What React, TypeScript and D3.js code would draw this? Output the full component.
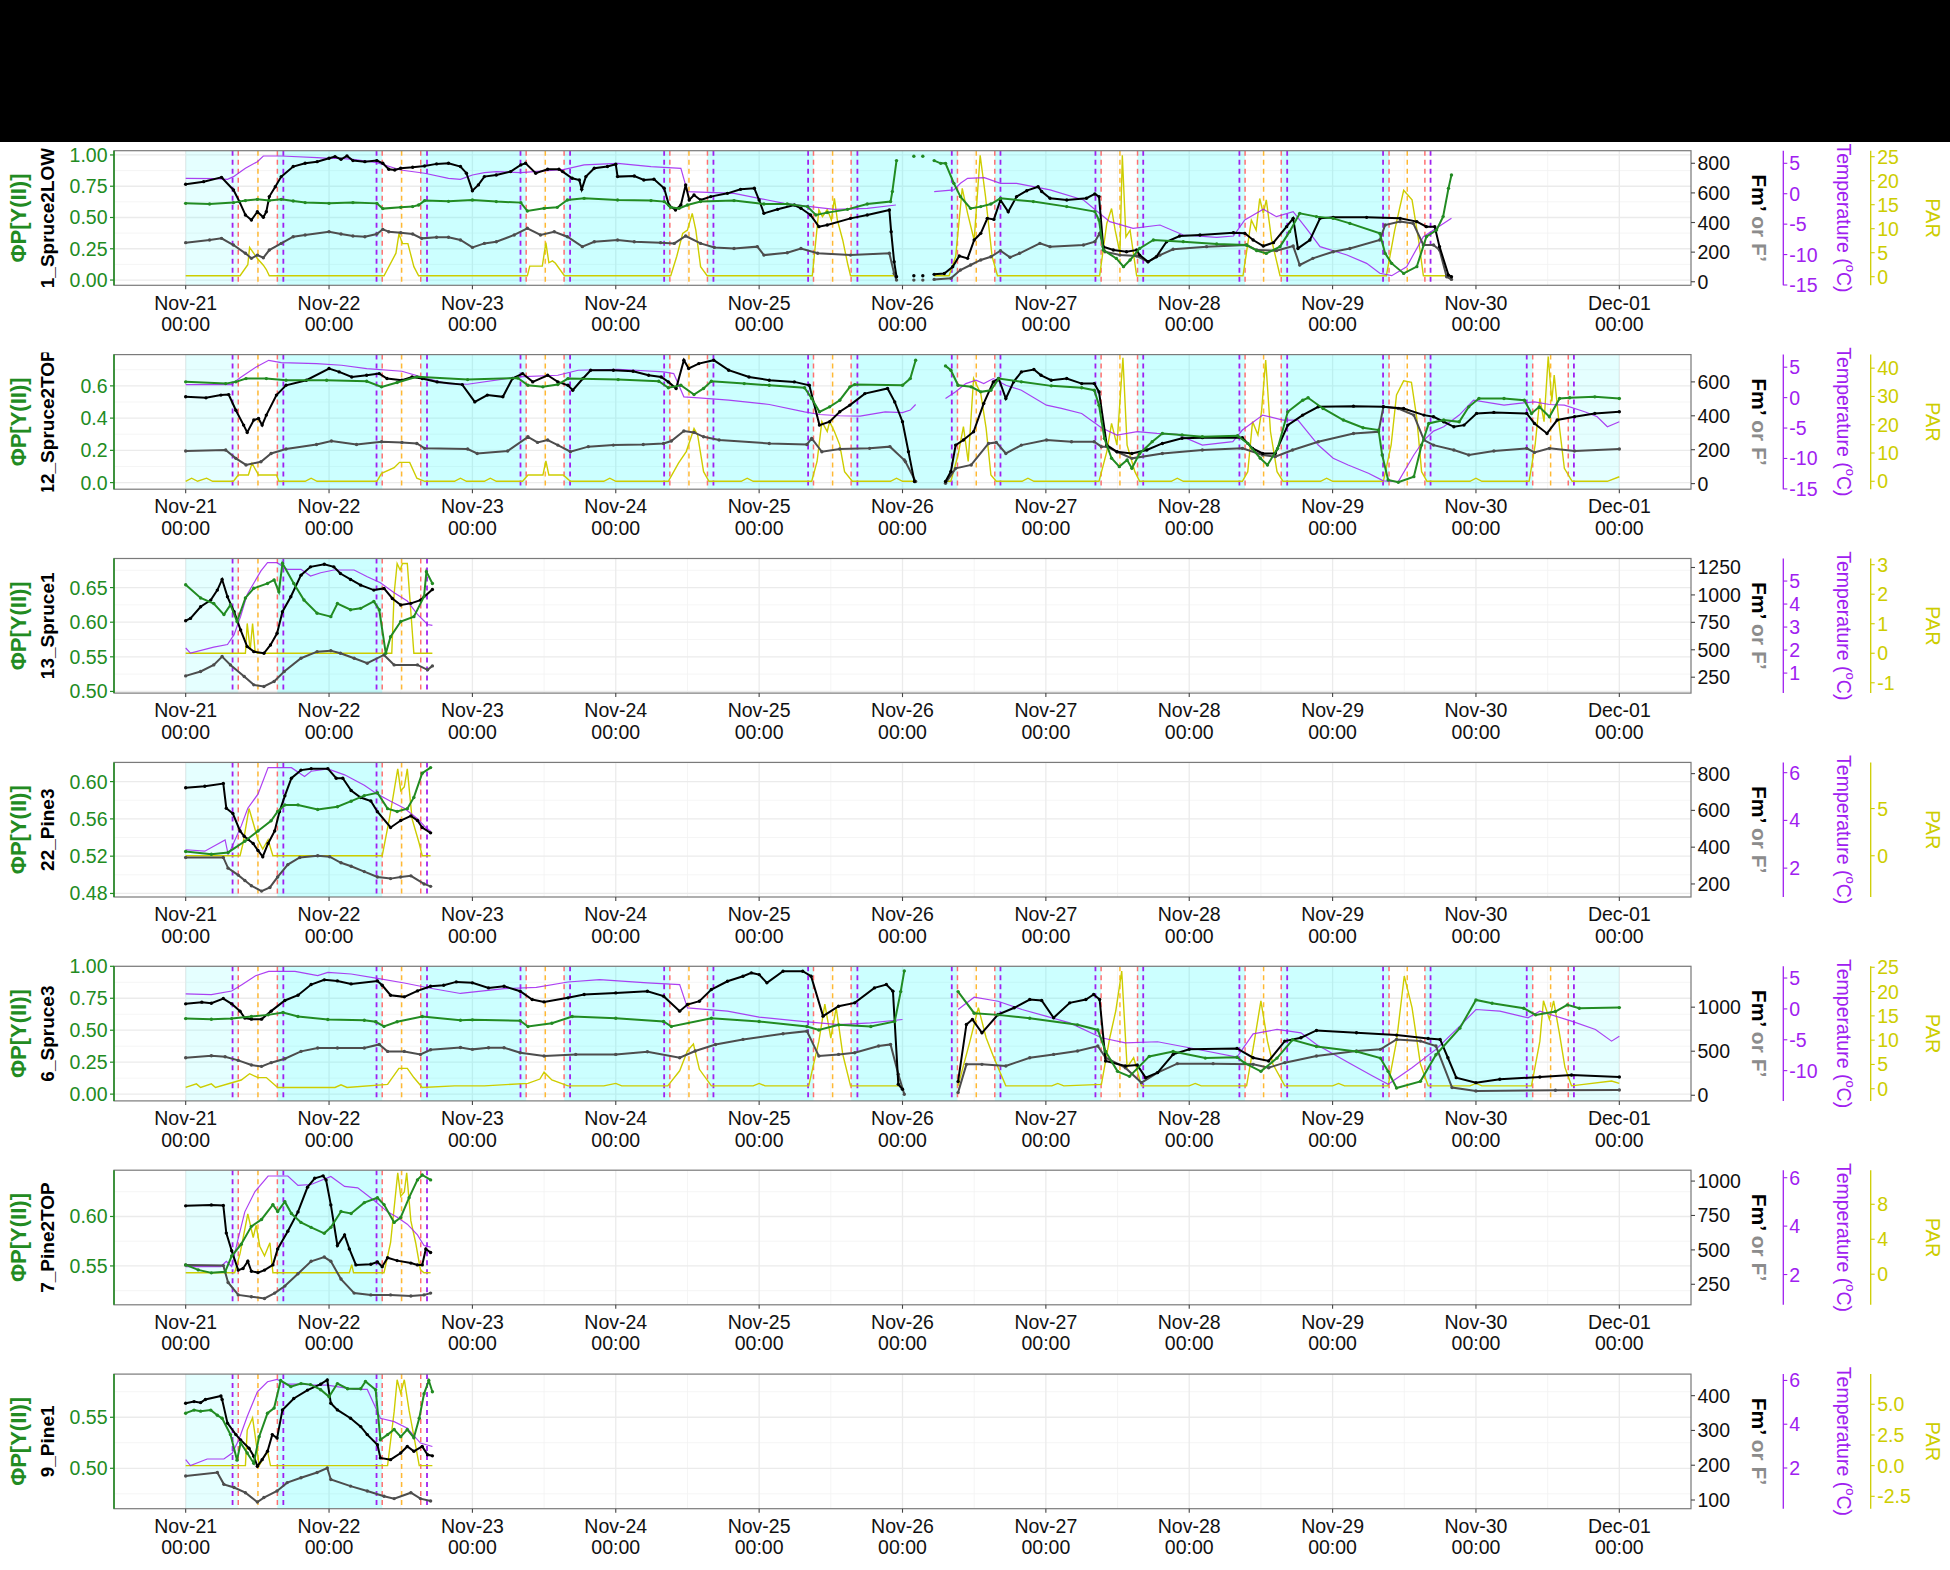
import * as d3 from 'd3';

type P = [number, number] | null;

// time axis: hours after Nov-21 00:00
const dayLabels = ['Nov-21', 'Nov-22', 'Nov-23', 'Nov-24', 'Nov-25', 'Nov-26', 'Nov-27', 'Nov-28', 'Nov-29', 'Nov-30', 'Dec-01'];
// sun events per day (clock hours), Nov-21 .. Nov-30
const dawnH = [7.85, 7.95, 8.05, 8.1, 8.2, 8.25, 8.3, 8.4, 8.45, 8.5];
const sunriseH = [8.8, 8.9, 9.0, 9.05, 9.1, 9.2, 9.25, 9.35, 9.45, 9.5];
const noonH = [12.1, 12.15, 12.2, 12.25, 12.3, 12.35, 12.4, 12.45, 12.5, 12.5];
const sunsetH = [15.35, 15.35, 15.35, 15.35, 15.4, 15.45, 15.35, 15.4, 15.45, 15.45];
const duskH = [16.35, 16.4, 16.35, 16.35, 16.45, 16.4, 16.3, 16.4, 16.4, 16.4];

// ---------- 1_Spruce2LOW ----------
const p1Phi: P[] = [[0,0.613],[4,0.608],[8,0.619],[10,0.635],[12,0.645],[14,0.635],[16,0.645],[18,0.632],[20,0.619],[24,0.613],[28,0.619],[32,0.613],[33,0.571],[36,0.581],[38,0.587],[39,0.6],[40,0.635],[44,0.629],[48,0.64],[52,0.627],[56.1,0.619],[57.2,0.552],[60,0.573],[62.2,0.581],[63.9,0.64],[66.7,0.653],[72.3,0.64],[77.9,0.635],[80.1,0.627],[81.2,0.581],[82.6,0.573],[84,0.6],[86.2,0.627],[91.8,0.635],[96.8,0.608],[100.7,0.608],[104.1,0.587],[105.5,0.52],[107.4,0.539],[110.8,0.565],[114.1,0.608],[118,0.627],[118.3,0.707],[119,0.955],null,[121.9,0.99],null,[123.4,0.99],null,[125.3,0.955],[126.4,0.933],[127.2,0.933],[128.6,0.773],[129.7,0.667],[131.4,0.573],[133.1,0.587],[134.8,0.608],[136.4,0.653],[141.9,0.627],[147.5,0.587],[152.2,0.547],[152.9,0.48],[153.6,0.24],[155.8,0.173],[157,0.107],[158.1,0.16],[159.7,0.253],[162,0.32],[167,0.307],[172.6,0.288],[177.6,0.28],[179.3,0.235],[180.9,0.213],[183.2,0.267],[184.8,0.387],[186.5,0.533],[189.3,0.507],[192.1,0.493],[194.9,0.453],[199.9,0.373],[200.8,0.213],[201.9,0.133],[203.9,0.053],[206.1,0.107],[207.7,0.347],[209.4,0.4],[210.5,0.507],[211.4,0.733],[211.9,0.84]];
const p1Fm: P[] = [[0,658],[3,676],[6,705],[8,620],[9,541],[10,451],[11,417],[12,473],[13,435],[13.5,473],[14,575],[15,642],[16,710],[18,778],[20,800],[22,811],[24,834],[25,845],[26,827],[27,850],[28,818],[30,811],[32,818],[33,800],[34,760],[35,755],[36,766],[38,773],[40,782],[42,796],[44,800],[46,778],[47,733],[48,615],[49,654],[50,710],[52,721],[54.4,744],[56.1,789],[56.9,800],[58.6,733],[60.6,760],[62.5,760],[63.1,744],[64.7,699],[65.9,687],[66.3,624],[67,710],[68.4,766],[70.6,778],[72,793],[72.3,710],[75.1,714],[76.7,687],[78.4,692],[80.1,631],[80.9,518],[82,485],[82.9,518],[83.7,654],[84.3,552],[85.1,586],[86.2,552],[87.9,575],[90.7,597],[92.9,624],[95.2,631],[96,552],[96.8,462],[99.1,489],[101.9,518],[103,496],[104.6,451],[106,372],[107.4,383],[111.3,428],[114.1,451],[117.8,485],[118.1,338],[118.6,135],[119,34],null,[121.9,40],null,[123.4,40],null,[125.3,50],[127,56],[128.4,101],[129.5,174],[130.9,158],[132,282],[133.1,327],[134.2,428],[135.3,421],[136.4,552],[137.7,473],[139.1,575],[140.8,615],[142.7,642],[143.3,609],[144.7,564],[147.5,552],[150.8,564],[152.2,593],[152.9,575],[153.6,237],[155.3,214],[157.5,203],[159.2,214],[159.7,180],[161.1,135],[162.5,169],[164.2,270],[166.4,309],[169.8,316],[175.4,331],[177.3,327],[178.7,282],[180.4,241],[182.1,264],[184.3,372],[185.4,428],[186.2,225],[188.2,282],[189.9,428],[192.1,435],[197.7,435],[203.3,428],[206.1,406],[207.7,372],[209.1,372],[209.9,237],[211.4,45],[211.9,34]];
const p1F: P[] = [[0,264],[4,282],[6,293],[8,248],[10,192],[11,158],[12,180],[13,162],[14,214],[16,259],[18,304],[20,316],[24,338],[26,322],[28,309],[30,304],[32,322],[33,354],[34,338],[36,331],[38,322],[39.5,293],[42,300],[44,300],[46,282],[48,232],[50,259],[52,270],[55,316],[57.2,361],[59.4,316],[61.7,338],[63.9,304],[66.4,237],[68.4,270],[72.3,282],[75.1,270],[79.5,264],[81.8,259],[83.7,309],[86.2,259],[88.5,232],[91.8,225],[95.7,237],[96.8,180],[100.7,196],[103,225],[105.8,192],[111.3,180],[117.8,192],[118.6,56],[119,11],null,[121.9,11],null,[123.4,11],null,[125.3,16],[128.1,23],[129.7,79],[131.4,113],[133.1,147],[134.8,169],[136.4,210],[138,165],[139.6,192],[143,259],[144.7,237],[150.3,248],[152.2,270],[153,327],[153.9,203],[156.4,180],[159.2,174],[161.1,135],[163.1,180],[165.3,219],[170.9,237],[177.6,248],[179.3,214],[182.6,210],[185.4,241],[186.5,113],[188.7,158],[192.1,203],[194.9,225],[199.9,282],[200.8,383],[203.3,406],[205.5,394],[207.2,248],[208.9,248],[209.9,214],[211.1,34],[211.9,16]];
const p1Temp: P[] = [[0,2.53],[5,2.48],[7,2.37],[8,2.81],[10,4.18],[12,5.27],[13,6.2],[16,6.2],[22,5.93],[24,5.82],[26,5.82],[28,5.66],[32,5.1],[36,3.9],[40,3.36],[44,2.53],[46,2.37],[48,3.08],[50,3.47],[52,3.63],[56.1,3.47],[63.4,4.01],[66.7,4.73],[72.3,5.0],[77.9,4.45],[82.9,4.18],[84,0.34],[88.5,0.18],[91.8,0.07],[97.4,-1.03],[100.2,-1.58],[104.6,-2.12],[108.6,-2.56],[114.1,-2.4],[118.9,-1.85],null,[125.3,0.34],[128.6,0.62],[129.7,1.71],[130.9,2.53],[133.7,2.64],[136.4,1.71],[139.1,1.71],[144.7,0.62],[150.3,-1.03],[154.7,-4.59],[158.6,-5.69],[163.1,-5.14],[167,-6.78],[172.6,-7.17],[175.4,-6.95],[177.3,-4.32],[180.4,-2.56],[182.6,-3.77],[185.4,-2.95],[187.6,-5.69],[189.9,-8.7],[194.4,-10.07],[197.7,-11.44],[199.9,-13.08],[201.9,-13.47],[204.4,-12],[207.2,-7.06],[211.9,-4.04]];
const p1Par: P[] = [[0,0.2],[9.1,0.2],[10.4,2.5],[10.7,6.1],[12,3.8],[13,2.4],[13.5,1.5],[14,0.2],[33.2,0.2],[35.2,4.9],[35.7,8.9],[36.3,6.9],[37.2,6.9],[38.2,2.1],[39,0.2],[57.2,0.2],[57.6,2.2],[59.7,2.2],[60.3,7.1],[60.8,2.9],[61.4,3.3],[61.9,2.8],[63.4,0.2],[81.2,0.2],[82.2,4.2],[83.2,9.0],[84,9.7],[84.8,13.2],[85.4,9.7],[86.2,2.1],[87.3,0.2],[104.9,0.2],[106,13.9],[106.6,12.5],[107.4,14.0],[108.1,11.8],[108.6,16.3],[109.1,11.8],[110,7.6],[110.8,2.8],[111.3,0.2],[118.9,0.2],null,[125.3,0.2],[127.8,0.2],[128.9,4.2],[130,18.4],[130.9,13.2],[132,7.6],[133,25.3],[133.9,16.7],[135,4.2],[135.9,0.2],[153,0.2],[154.2,11.1],[155,14.2],[155.6,9.7],[156.4,4.9],[156.8,25.3],[157.4,8.3],[158.1,9.7],[159.2,0.2],[177,0.2],[178.4,11.8],[179.2,9.7],[179.8,16.3],[180.4,13.2],[180.9,16],[181.8,7.6],[183.2,0.2],[201,0.2],[202.4,9.7],[203.9,18],[205.3,16],[206.4,7.6],[207.2,0.2],[211.9,0.2]];

// ---------- 12_Spruce2TOP ----------
const p2Phi: P[] = [[0,0.625],[6.7,0.614],[8.4,0.625],[10.1,0.645],[13.5,0.645],[16.8,0.635],[23.6,0.635],[30.3,0.629],[32.8,0.594],[35.4,0.621],[38.7,0.656],[47.2,0.639],[55.6,0.649],[57.3,0.604],[59.8,0.594],[62.3,0.608],[64,0.645],[72.4,0.639],[79.2,0.629],[80.8,0.588],[82.9,0.604],[85.1,0.546],[86.7,0.584],[88,0.629],[93.5,0.614],[97.7,0.604],[103.6,0.588],[104.8,0.522],[106.1,0.439],[107.8,0.47],[109.5,0.511],[111.2,0.594],[112,0.608],[120,0.604],[121.3,0.645],[122.2,0.759],null,[127.2,0.724],[128.1,0.697],[129.3,0.604],[131.5,0.594],[133.1,0.563],[134.8,0.573],[136.1,0.645],[139.9,0.625],[144.9,0.6],[150,0.588],[152.1,0.573],[152.9,0.48],[153.8,0.274],[155,0.151],[156.3,0.099],[157.6,0.14],[158.4,0.089],[159.7,0.181],[161.8,0.254],[163.5,0.305],[166.8,0.295],[170.2,0.285],[176.1,0.291],[177.8,0.243],[179.9,0.151],[181.1,0.109],[182.8,0.212],[184.5,0.439],[187,0.511],[187.9,0.526],[190.4,0.46],[193.8,0.388],[197.1,0.34],[199.7,0.326],[200.3,0.171],[201.3,0.016],[203,0.002],[205.6,0.037],[206.9,0.233],[208.1,0.367],[210.6,0.388],[213.2,0.377],[214.8,0.47],[216.5,0.522],[220.7,0.522],[224.1,0.511],[225.3,0.429],[226.6,0.47],[228.3,0.408],[230,0.522],[231.7,0.526],[235.9,0.532],[240,0.522]];
const p2Fm: P[] = [[0,512],[3.4,506],[5.9,522],[7.2,525],[8.4,433],[9.7,345],[10.3,302],[11.4,375],[12.2,384],[12.8,345],[13.5,404],[15.2,522],[16.8,580],[20.2,610],[24,679],[25.7,659],[27.8,629],[30.3,639],[32.4,649],[33.7,620],[36.2,610],[37.9,629],[39.6,620],[42.1,600],[46.3,584],[48.4,482],[50.5,522],[53.1,512],[54.7,620],[56.4,649],[58.1,600],[60.6,639],[62.3,600],[64,580],[64.8,551],[66.5,620],[67.8,669],[71.6,669],[74.9,663],[77.5,639],[79.6,629],[80.8,600],[82.1,561],[83.4,728],[84.2,679],[85.9,708],[88.4,728],[90.9,669],[94.3,629],[97.7,610],[101.9,600],[104.4,580],[106.1,345],[107.8,365],[109.5,424],[111.2,463],[113.7,531],[117.5,561],[118.7,482],[120,365],[121,188],[122,12],null,[127.2,12],[128.1,71],[128.9,227],[130.2,257],[131.9,306],[133.6,473],[135.2,600],[136.1,620],[137.3,502],[138.6,600],[139.9,659],[142,673],[143.2,639],[144.9,610],[147.5,620],[150,590],[152.1,590],[152.9,541],[154.2,227],[155.9,188],[158.4,178],[160.9,198],[163.5,237],[166.8,267],[170.2,271],[176.9,271],[178.6,208],[180.3,178],[182.4,178],[184.5,345],[187,404],[189.6,453],[195.5,457],[200.5,453],[203.9,443],[207.3,404],[208.9,394],[210.6,365],[212.3,335],[214,345],[216.1,414],[219,420],[224.5,414],[225.8,355],[227.9,296],[229.6,375],[232.5,394],[235.9,414],[240,424]];
const p2F: P[] = [[0,192],[6.7,198],[8.4,149],[10.1,110],[12.6,129],[14.3,178],[16.8,204],[21.9,231],[24.4,251],[28.6,231],[32.8,247],[36.2,243],[38.7,237],[40,208],[47.2,204],[48.8,178],[53.9,192],[57.3,276],[58.9,243],[60.6,257],[62.3,227],[64.4,188],[67.4,218],[71.6,227],[76.6,231],[80,237],[81.3,251],[83.4,310],[85.1,302],[86.7,276],[89.3,257],[97.7,237],[104,231],[104.8,267],[106.5,188],[109.5,204],[114.5,208],[117.9,218],[120.3,139],[120.5,129],[122.2,12],null,[127.2,2],[128.9,90],[131.5,110],[134.4,237],[135.7,243],[137.3,178],[139.9,227],[144.1,257],[148.3,247],[152.1,247],[153.3,218],[154.2,218],[155.9,188],[158.4,149],[163.5,178],[170.2,198],[176.9,208],[180.3,169],[182.4,159],[185.3,198],[189.6,247],[195.5,296],[199.7,306],[200.5,453],[203,443],[205.6,404],[207.3,257],[208.9,227],[212.3,198],[214.8,169],[219,192],[224.5,208],[225.8,184],[228.3,208],[232.5,192],[240,204]];
const p2Temp: P[] = [[0,2.15],[7.6,2.15],[9.3,3.4],[11.8,5.04],[13.9,6.13],[16,5.75],[21.9,5.59],[26.1,5.32],[30.3,4.77],[36.2,4.33],[40.4,3.13],[43.8,2.31],[47.2,2.2],[55.6,3.4],[62.3,3.68],[65.7,4.5],[72.4,4.66],[80,4.22],[81.7,3.95],[83.4,0.13],[85.9,-0.04],[90.9,-0.42],[97.7,-1.13],[103.6,-2.33],[106.1,-2.77],[109.5,-2.98],[112.9,-3.04],[117.1,-2.33],[120,-2.45],[121.3,-2.05],[122.2,-1.13],null,[127.2,-0.14],[128.9,0.95],[130.6,2.31],[132.3,2.86],[133.6,2.31],[135.2,3.13],[137.3,2.04],[139.9,1.22],[144.1,-1.24],[146.6,-1.78],[150,-2.6],[153.3,-4.95],[155.9,-6.15],[159.3,-5.6],[162.6,-5.88],[166,-6.04],[170.2,-7.79],[175.3,-7.24],[176.9,-5.33],[180.3,-2.87],[183.7,-3.69],[186.2,-3.69],[189.6,-7.79],[192.1,-9.97],[194.6,-11.07],[198,-12.43],[200.5,-13.68],[203,-13.79],[205.6,-9.43],[207.3,-6.97],[208.9,-5.5],[210.6,-4.78],[213.2,-2.87],[215.6,-0.42],[220.7,-1.24],[223.2,-0.96],[225.8,-0.69],[228.3,-1.13],[230.8,-1.24],[234.2,-2.33],[236.3,-3.15],[238,-4.78],[240,-3.97]];
const p2Par: P[] = [[0,0],[1,1.1],[2,0],[3.5,1.1],[4.5,0],[8,0],[8.8,2.2],[10.5,2.2],[11.1,6.4],[12.2,2.2],[15.2,2.2],[15.6,0],[20,0],[21,1.1],[22,0],[32,0],[32.8,2.8],[34.9,4.8],[35.8,6.7],[37.5,6.7],[38.7,1.1],[40,0],[45,0],[46,1.1],[47,0],[50,0],[51,1.1],[52,0],[56.4,0],[57.3,2.2],[59.8,2.2],[60.3,7.2],[60.8,2.2],[63.2,2.2],[64.4,0],[70,0],[71,1.1],[72,0],[80.8,0],[82.5,6.4],[83.8,10.5],[85.1,18.7],[85.7,16.4],[86.7,3.4],[87.6,0],[93,0],[94,1.1],[95,0],[104.8,0],[105.7,7],[106.5,21.1],[107.4,17.6],[107.8,21.1],[108.6,17.6],[109.5,12.8],[110.3,3.4],[111.6,0],[118,0],[119,1.1],[120,0],[122,0],null,[127.2,0],[128.1,0],[129.3,9.3],[130.2,19.3],[131,7],[131.9,36.4],[133.1,31.1],[134,18.7],[134.8,2.2],[135.7,0],[140,0],[141,1.1],[142,0],[152.9,0],[154.2,10.5],[155,20.5],[155.9,12.8],[156.9,43.7],[157.6,12.8],[158.9,3.4],[159.7,0],[165,0],[166,1.1],[167,0],[176.9,0],[177.8,3.4],[178.6,21.1],[179.5,16.4],[180.1,24.6],[180.8,42.9],[181.6,17.6],[182.7,3.4],[183.7,0],[190,0],[191,1.1],[192,0],[200.5,0],[201.8,12.8],[202.7,30.5],[203.9,35.5],[205.2,35],[206.1,22.3],[206.9,3.4],[207.8,0],[215,0],[216,1.1],[217,0],[224.9,0],[225.9,12.8],[226.7,29.3],[227.4,21.1],[228.1,44.1],[228.7,28.2],[229.1,37.6],[230,18.7],[230.8,4.6],[232.1,0],[238,0],[240,1.6]];

// ---------- 13_Spruce1 ----------
const p3Phi: P[] = [[0,0.654],[2.5,0.635],[4.7,0.627],[6.4,0.611],[7.5,0.625],[8.6,0.601],[10,0.635],[11.4,0.649],[13.7,0.656],[14.8,0.661],[15.6,0.644],[16.2,0.685],[18.1,0.656],[19.8,0.632],[22,0.613],[24.3,0.608],[25.4,0.627],[27.6,0.618],[29.3,0.62],[31.5,0.63],[32.4,0.618],[33.5,0.555],[34.3,0.579],[36,0.601],[38.2,0.608],[39.9,0.637],[40.3,0.673],[41.3,0.656]];
const p3Fm: P[] = [[0,765],[0.8,786],[2.5,892],[4.2,953],[5.3,1044],[6.1,1141],[7,983],[8.1,847],[9.2,680],[10.3,529],[11.4,483],[13.1,468],[14.2,544],[15.3,650],[16.2,847],[17.6,983],[19.3,1180],[20.9,1256],[23.2,1280],[24.8,1256],[25.9,1195],[27.6,1141],[29.3,1089],[31.5,1044],[33.2,1059],[34.6,968],[36,908],[37.7,923],[39.3,953],[41.3,1050]];
const p3F: P[] = [[0,262],[2.5,302],[4.7,362],[6.1,438],[7.5,362],[9.8,256],[11.4,180],[13.1,165],[14.8,211],[16.5,302],[19.3,423],[22,483],[24.3,492],[25.9,468],[28.2,423],[30.4,377],[33.2,453],[34.9,362],[38.8,362],[40.5,317],[41.3,353]];
const p3Temp: P[] = [[0,2.09],[0.8,1.87],[4.7,2.13],[7,2.24],[8.1,2.67],[9.2,3.47],[10.3,4.42],[12.6,5.44],[13.7,5.8],[15.3,5.8],[17,5.51],[19.3,5.51],[20.9,5.22],[22.6,5.36],[24.8,5.48],[28.2,5.48],[30.4,5.19],[32.6,4.93],[34.9,4.49],[37.1,4.13],[38.8,3.55],[40.5,3.11],[41.3,3.07]];
const p3Par: P[] = [[0,0],[10,0],[10.3,1.01],[10.8,0.11],[11.2,1.01],[11.6,0.11],[12,0],[34.5,0],[34.9,2.03],[35.4,3.04],[35.9,2.82],[36.3,3.04],[37.1,3.04],[38.2,0],[41.3,0]];

// ---------- 22_Pine3 ----------
const p4Phi: P[] = [[0,0.525],[4.3,0.522],[7.1,0.524],[9.9,0.536],[12.1,0.547],[14.3,0.558],[15.4,0.568],[16.6,0.575],[18.8,0.575],[22.1,0.57],[25.4,0.573],[27.7,0.579],[29.9,0.585],[32.1,0.588],[33.8,0.571],[35.4,0.568],[37.1,0.571],[38.2,0.583],[39.6,0.609],[41,0.615]];
const p4Fm: P[] = [[0,723],[3.2,731],[6.3,746],[6.8,612],[7.9,583],[9.1,488],[9.8,459],[10.4,443],[11.3,420],[12.1,382],[12.9,348],[13.8,420],[14.9,488],[15.7,593],[16.6,679],[17.7,775],[19.3,819],[21,827],[23.8,827],[25.2,775],[26.3,775],[27.7,708],[29.3,670],[31,651],[32.1,593],[34.3,507],[36,545],[37.7,570],[38.8,545],[39.6,507],[41,478]];
const p4F: P[] = [[0,344],[6.3,344],[7.1,286],[8.8,248],[9.9,219],[11,190],[12.7,161],[14.1,181],[15.4,238],[17.1,305],[19.1,344],[22.1,353],[24.1,348],[26,315],[27.7,296],[29.9,267],[32.1,238],[34.3,229],[36,238],[37.7,244],[39.9,200],[41,187]];
const p4Temp: P[] = [[0,2.77],[3.2,2.71],[6.6,3.18],[7.1,2.59],[7.6,2.81],[9.3,3.77],[10.4,4.51],[12.1,5.1],[13.8,6.21],[17.7,6.21],[19.9,5.84],[21,6.06],[23.8,6.16],[26.6,5.91],[29.9,5.47],[32.1,5.1],[34.3,4.8],[36.6,4.51],[38.8,4.07],[40.2,3.7],[41,3.55]];
const p4Par: P[] = [[0,0],[9.1,0],[9.6,1.3],[10.6,5],[11.3,3.5],[12.1,1.7],[12.9,0.7],[13.8,1.7],[14.6,0],[32.9,0],[34.1,3.9],[35.5,9.2],[36,6.9],[36.6,7.3],[37.1,9.2],[37.9,3.9],[39.1,1.3],[39.6,0],[41,0]];

// ---------- 6_Spruce3 ----------
const p5Phi: P[] = [[0,0.591],[4.3,0.586],[7.7,0.591],[11,0.607],[13.8,0.62],[16.3,0.638],[18.8,0.607],[23.8,0.584],[29.9,0.578],[31.8,0.566],[33.2,0.53],[35.4,0.566],[39.6,0.607],[46,0.578],[48,0.581],[56,0.574],[57.3,0.529],[61.3,0.555],[64.7,0.607],[72,0.594],[80,0.568],[81.3,0.529],[88,0.594],[96,0.568],[104,0.529],[106,0.502],[109.3,0.542],[114.7,0.529],[118.7,0.568],[119.7,0.802],[120.3,0.964],null,[129.3,0.802],[132,0.633],[136,0.62],[141.3,0.594],[149.3,0.542],[152.7,0.502],[154,0.334],[156,0.178],[158,0.139],[161.3,0.295],[165.3,0.334],[170.7,0.282],[176,0.288],[177.3,0.243],[180,0.178],[182.7,0.282],[185.3,0.425],[189.3,0.373],[196,0.334],[200,0.282],[201.3,0.178],[202.7,0.048],[206.7,0.1],[209.3,0.308],[213.3,0.516],[216,0.737],[218.7,0.711],[224,0.672],[226,0.62],[229.3,0.646],[231.3,0.698],[233.3,0.672],[240,0.677]];
const p5Fm: P[] = [[0,1038],[2.7,1057],[4.3,1045],[6.3,1098],[7.7,1038],[9.1,955],[9.9,876],[11,864],[12.7,864],[14.3,955],[16.6,1076],[18.8,1136],[21,1257],[23.2,1310],[25.4,1298],[27.7,1264],[32.1,1298],[32.9,1249],[34.3,1136],[36.6,1117],[38.8,1185],[41,1238],[43.2,1249],[45.3,1287],[48,1276],[50.7,1219],[53.3,1238],[56,1181],[58,1087],[60,1060],[64,1106],[66.7,1144],[72,1162],[77.3,1181],[80,1125],[82.7,955],[84,1030],[86,1068],[88,1200],[90.7,1294],[93.3,1351],[94.7,1389],[96,1370],[97.3,1276],[100,1408],[103.3,1408],[104.7,1351],[106.7,898],[109.3,1011],[112,1049],[115.3,1219],[117.3,1257],[118.4,1181],[119.3,125],[120,68],null,[129.3,155],[130.7,804],[131.7,860],[133.3,709],[136,917],[138.7,993],[141.3,1087],[143.3,1076],[145.3,879],[148,1049],[150.7,1087],[152,1144],[153,1087],[154,389],[157.3,332],[159.3,343],[160.7,200],[162.7,257],[165.3,464],[168,521],[176,532],[178.7,426],[181.3,389],[184,615],[186.7,653],[189.3,736],[196,709],[202.7,683],[208,645],[210,634],[211.3,426],[212.7,200],[216,143],[220,181],[226.7,208],[232,230],[240,208]];
const p5F: P[] = [[0,426],[4.3,449],[6.6,438],[8.8,396],[11,343],[12.7,328],[14.3,370],[16.6,415],[19.3,498],[22.1,536],[25.4,536],[29.9,536],[32.4,577],[33.8,498],[36.6,498],[39.3,464],[41,517],[46,543],[48,521],[50.7,540],[53.3,540],[56,483],[60,445],[65.3,464],[72,464],[77.3,494],[82.7,426],[85.3,502],[88.7,577],[93.3,634],[100,698],[104,728],[106,445],[109.3,464],[112,483],[116,559],[118,577],[119.3,238],[120.3,11],null,[129.3,30],[130.7,351],[133.3,351],[137.3,332],[141.3,426],[145.3,464],[149.3,502],[152.7,559],[154,426],[157.3,313],[160,143],[162.7,257],[166,359],[172,359],[178.7,351],[181.3,313],[184,370],[189.3,445],[196,502],[200,521],[202.7,634],[206.7,615],[209.3,559],[212,87],[216,49],[229.3,57],[240,60]];
const p5Temp: P[] = [[0,2.42],[4.3,2.32],[7.7,2.9],[9.4,3.93],[11.7,5.38],[13.9,6.08],[18.3,6.08],[22.1,5.38],[23.8,5.92],[27.7,5.65],[32.1,4.95],[36.6,4.2],[41,3.34],[46,2.5],[53.3,3.28],[58.7,3.5],[64,4.36],[69.3,4.74],[77.3,4.2],[82.7,3.93],[84,0.16],[90.7,-0.37],[96,-1.34],[102.7,-1.99],[109.3,-2.53],[114.7,-2.26],[120,-1.72],null,[129.3,-0.1],[132,1.89],[136,1.24],[140,-0.1],[144,-1.18],[148,-2.26],[153.3,-4.68],[157.3,-5.49],[162.7,-5.32],[168,-6.29],[176,-7.8],[178.7,-4.03],[182.7,-3.33],[186.7,-3.87],[189.3,-5.75],[194.7,-8.71],[198.7,-10.87],[201.3,-12.21],[205.3,-9.52],[209.3,-6.56],[213.3,-2.8],[216,-0.1],[220,-0.37],[224.7,-1.45],[226.7,-0.37],[232,-1.99],[236,-3.33],[238.7,-5.22],[240,-4.41]];
const p5Par: P[] = [[0,0.27],[1.8,1.0],[2.5,0.27],[4.3,1.0],[5,0.27],[9.3,1.8],[10.7,3.1],[12.1,2.3],[13.5,2.3],[15.4,0.27],[25,0.27],[26,0.8],[27,0.27],[33.8,0.9],[35.7,4.2],[37.1,4.2],[38.2,2.3],[39.6,0.27],[45,0.6],[50,0.6],[57.3,1.1],[59.3,2.0],[60,3.4],[61.3,1.8],[64,0.6],[70,0.6],[72,1.1],[73,0.6],[80.7,0.6],[82.7,3.7],[84,7.8],[85,9.2],[86,4.0],[88,0.6],[95,0.6],[96,1.1],[97,0.6],[104.3,0.6],[106,9.8],[107,17.4],[108,10.4],[108.9,16.7],[110,7.1],[111.3,0.6],[120,0.6],null,[129.3,0.6],[131.3,9.8],[132.7,16.7],[134,10.5],[135.3,6.4],[137.3,0.6],[145,0.6],[146,1.1],[147,0.6],[153.3,0.9],[154.7,10.5],[155.7,16],[156.7,24.2],[157.6,4.4],[158.7,6.4],[160,0.6],[168,0.6],[169,1.1],[170,0.6],[177.6,0.6],[178.9,9.8],[180,18.1],[181.1,9.8],[182,5.1],[184,0.6],[192,0.6],[193,1.1],[194,0.6],[201.3,0.6],[202.7,9.8],[204,23.2],[205.3,16.7],[206.7,5.1],[208,0.6],[215,0.6],[216,1.1],[217,0.6],[225.3,0.6],[226.7,9.8],[227.3,18.1],[228.3,14.3],[229,18.1],[230,11.2],[230.9,4.4],[232,0.6],[238.7,1.6],[240,1.1]];

// ---------- 7_Pine2TOP ----------
const p6Phi: P[] = [[0,0.551],[2.1,0.546],[4.3,0.543],[6.6,0.544],[7.7,0.56],[9.3,0.572],[11,0.59],[12.7,0.597],[14.6,0.612],[15.4,0.605],[16.6,0.615],[17.7,0.603],[19.3,0.594],[21,0.589],[23.2,0.583],[24.3,0.589],[26,0.605],[27.7,0.603],[29.9,0.614],[32.1,0.619],[33.2,0.612],[34.9,0.594],[36,0.599],[37.4,0.619],[38.8,0.637],[39.6,0.642],[41,0.637]];
const p6Fm: P[] = [[0,820],[4.3,827],[6.3,823],[6.8,622],[7.7,494],[8.8,353],[9.6,365],[10.4,417],[11,345],[12.1,335],[13.2,353],[14.6,391],[15.4,507],[17.1,635],[18.8,776],[20.4,956],[21.6,1020],[23,1038],[23.5,1008],[24.3,827],[25.4,532],[26.6,609],[27.4,507],[28.5,391],[31,396],[32.1,412],[32.9,378],[33.8,443],[35.4,422],[37.7,404],[38.8,391],[39.6,391],[40.2,507],[41,481]];
const p6F: P[] = [[0,391],[6.3,386],[7.1,263],[8.8,173],[11,160],[13.2,147],[14.9,186],[16.6,237],[18.8,327],[21,417],[23.2,448],[24.3,417],[26,288],[28.2,186],[31,173],[34.3,173],[37.7,165],[39.9,173],[41,186]];
const p6Temp: P[] = [[0,2.33],[5.9,2.33],[6.8,2.55],[7.7,2.33],[8.8,3.49],[9.9,4.59],[11.6,5.43],[13.8,6.07],[17.1,6.07],[18.8,5.68],[21,5.72],[24.3,6.05],[26.6,5.64],[28.8,5.58],[31.6,5.05],[33.8,4.59],[35.4,4.37],[37.1,4.08],[38.8,3.64],[39.9,3.2],[41,3.13]];
const p6Par: P[] = [[0,0.16],[8.2,0.16],[9.1,2.35],[10.4,6.9],[11.3,4.2],[11.8,5.6],[12.4,3.2],[13.2,2.1],[14.1,3.6],[14.6,0.16],[27.4,0.16],[27.8,1.1],[28.1,0.16],[33.2,0.16],[34.3,3.6],[35.5,11.6],[36,8.9],[36.6,9.4],[37,11.6],[37.7,6.1],[38.5,3.6],[39.3,0.5],[39.9,0.16],[41,0.16]];

// ---------- 9_Pine1 ----------
const p7Phi: P[] = [[0,0.554],[1.4,0.557],[2.5,0.556],[4.2,0.557],[5.3,0.552],[6.1,0.549],[7.5,0.533],[8.6,0.508],[9.2,0.525],[10.3,0.515],[11.4,0.505],[12.3,0.531],[13.7,0.554],[14.8,0.559],[15.9,0.586],[17.6,0.58],[19.3,0.583],[20.9,0.582],[22.6,0.577],[24,0.57],[25.4,0.583],[27.1,0.578],[29.3,0.578],[30.1,0.585],[31.8,0.577],[32.6,0.528],[33.8,0.533],[34.9,0.538],[36,0.531],[37.1,0.538],[38.2,0.53],[39.1,0.549],[39.9,0.573],[40.7,0.586],[41.3,0.575]];
const p7Fm: P[] = [[0,378],[1.4,383],[2.5,380],[3.3,389],[5.9,399],[6.1,389],[7,321],[8.4,288],[9.2,273],[10.6,249],[11.4,226],[12,197],[12.8,216],[13.7,240],[14.5,288],[15.3,278],[16.2,359],[18.1,392],[20.4,416],[22.6,433],[23.7,445],[24.3,378],[25.4,359],[27.6,335],[29.3,311],[30.4,288],[32.1,259],[32.6,221],[34.3,216],[36,235],[37.1,254],[38.2,240],[39.6,254],[40.5,230],[41.3,227]];
const p7F: P[] = [[0,169],[5.3,179],[6.4,145],[8.1,136],[10,121],[12,94],[13.1,107],[15.3,126],[17,150],[19.3,164],[22,179],[23.7,192],[24.3,159],[27.6,140],[30.4,126],[33.2,111],[34.9,104],[37.7,121],[39.3,104],[41,97]];
const p7Temp: P[] = [[0,2.38],[0.8,2.11],[3.6,2.41],[6.4,2.41],[7.8,2.68],[8.9,3.29],[10.3,4.35],[12,5.48],[13.7,5.94],[15.3,6.05],[17,5.83],[19.3,5.83],[21.5,5.79],[23.7,5.79],[28.2,5.59],[30.4,5.59],[32.6,4.27],[34.9,4.12],[37.1,3.82],[39.3,3.14],[41.3,2.98]];
const p7Par: P[] = [[0,0],[10,0],[10.3,2.9],[11.2,3.9],[11.7,2.2],[12.3,0],[13.7,1.2],[14.2,0],[33.8,0],[34.9,4.4],[35.4,7],[36,5.9],[36.6,7],[37.4,4.5],[38.2,2.4],[39.1,0],[41.3,0]];

// axis tick labels
const phiTicks1 = ['0.00', '0.25', '0.50', '0.75', '1.00'];
const phiTicks2 = ['0.0', '0.2', '0.4', '0.6'];
const phiTicks3 = ['0.50', '0.55', '0.60', '0.65'];
const phiTicks4 = ['0.48', '0.52', '0.56', '0.60'];
const phiTicks6 = ['0.55', '0.60'];
const phiTicks7 = ['0.50', '0.55'];

const panels = [
  { name: '1_Spruce2LOW', phi: p1Phi, fm: p1Fm, f: p1F, temp: p1Temp, par: p1Par,
    phiDom: [-0.042, 1.034], phiTicks: phiTicks1, fDom: [-24, 885], fTicks: ['0', '200', '400', '600', '800'],
    tDom: [-15.05, 7.07], tTicks: ['-15', '-10', '-5', '0', '5'], parDom: [-1.79, 26.25], parTicks: ['0', '5', '10', '15', '20', '25'],
    end: 211.9, nights: 8, tail: false },
  { name: '12_Spruce2TOP', phi: p2Phi, fm: p2Fm, f: p2F, temp: p2Temp, par: p2Par,
    phiDom: [-0.041, 0.794], phiTicks: phiTicks2, fDom: [-33, 761], fTicks: ['0', '200', '400', '600'],
    tDom: [-15.05, 7.07], tTicks: ['-15', '-10', '-5', '0', '5'], parDom: [-2.8, 44.8], parTicks: ['0', '10', '20', '30', '40'],
    end: 240, nights: 9, tail: true },
  { name: '13_Spruce1', phi: p3Phi, fm: p3Fm, f: p3F, temp: p3Temp, par: p3Par,
    phiDom: [0.4976, 0.692], phiTicks: phiTicks3, fDom: [105, 1332], fTicks: ['250', '500', '750', '1000', '1250'],
    tDom: [0.13, 5.98], tTicks: ['1', '2', '3', '4', '5'], parDom: [-1.35, 3.21], parTicks: ['-1', '0', '1', '2', '3'],
    end: 41.3, nights: 1, tail: false },
  { name: '22_Pine3', phi: p4Phi, fm: p4Fm, f: p4F, temp: p4Temp, par: p4Par,
    phiDom: [0.4762, 0.6206], phiTicks: phiTicks4, fDom: [129, 861], fTicks: ['200', '400', '600', '800'],
    tDom: [0.79, 6.43], tTicks: ['2', '4', '6'], parDom: [-4.37, 9.89], parTicks: ['0', '5'],
    end: 41, nights: 1, tail: false },
  { name: '6_Spruce3', phi: p5Phi, fm: p5Fm, f: p5F, temp: p5Temp, par: p5Par,
    phiDom: [-0.053, 1.0], phiTicks: phiTicks1, fDom: [-64, 1464], fTicks: ['0', '500', '1000'],
    tDom: [-14.9, 6.9], tTicks: ['-10', '-5', '0', '5'], parDom: [-2.5, 25.2], parTicks: ['0', '5', '10', '15', '20', '25'],
    end: 240, nights: 9, tail: true },
  { name: '7_Pine2TOP', phi: p6Phi, fm: p6Fm, f: p6F, temp: p6Temp, par: p6Par,
    phiDom: [0.5107, 0.6468], phiTicks: phiTicks6, fDom: [101, 1079], fTicks: ['250', '500', '750', '1000'],
    tDom: [0.75, 6.31], tTicks: ['2', '4', '6'], parDom: [-3.5, 11.9], parTicks: ['0', '4', '8'],
    end: 41, nights: 1, tail: false },
  { name: '9_Pine1', phi: p7Phi, fm: p7Fm, f: p7F, temp: p7Temp, par: p7Par,
    phiDom: [0.4604, 0.5923], phiTicks: phiTicks7, fDom: [75, 462], fTicks: ['100', '200', '300', '400'],
    tDom: [0.14, 6.29], tTicks: ['2', '4', '6'], parDom: [-3.51, 7.46], parTicks: ['-2.5', '0.0', '2.5', '5.0'],
    end: 41.3, nights: 1, tail: false },
];

const FONT = '"Liberation Sans", Arial, Helvetica, sans-serif';
const GREEN = '#228B22';
const PURPLE = '#A020F0';
const YELLOW = '#CDCD00';
const GRAY = '#4D4D4D';
const BORDER = '#7a7a7a';

const L = 114, R = 1691;
const x = d3.scaleLinear().domain([-12, 252]).range([L, R]);

function Panel({ p, i }: { p: any; i: number }) {
  const top = 150.7 + i * 203.9;
  const bot = top + 134.6;
  const mid = (top + bot) / 2;
  const yPhi = d3.scaleLinear().domain(p.phiDom).range([bot, top]);
  const yF = d3.scaleLinear().domain(p.fDom).range([bot, top]);
  const yT = d3.scaleLinear().domain(p.tDom).range([bot, top]);
  const yPar = d3.scaleLinear().domain(p.parDom).range([bot, top]);
  const line = (ys: any) =>
    d3.line<P>().defined((d) => d !== null).x((d) => x(d![0])).y((d) => ys(d![1]));

  const phiVals = p.phiTicks.map(Number);
  const stepV = phiVals[1] - phiVals[0];
  const minorY: number[] = [];
  for (let k = -1; k < phiVals.length; k++) {
    const v = phiVals[0] + (k + 0.5) * stepV;
    if (v > p.phiDom[0] && v < p.phiDom[1]) minorY.push(v);
  }
  const dayH = dayLabels.map((_, d) => d * 24);

  const shades: [number, number, number][] = [[0, sunriseH[0], 0.1]];
  for (let d = 0; d < p.nights; d++) shades.push([d * 24 + sunsetH[d], (d + 1) * 24 + sunriseH[d + 1], 0.2]);
  if (p.tail) shades.push([9 * 24 + sunsetH[9], p.end, 0.1]);

  const vlines: { h: number; c: string; w: number }[] = [];
  dawnH.forEach((_, d) => {
    if (d * 24 >= p.end) return;
    vlines.push({ h: d * 24 + dawnH[d], c: PURPLE, w: 1.8 });
    vlines.push({ h: d * 24 + sunriseH[d], c: '#ff7070', w: 1.5 });
    vlines.push({ h: d * 24 + noonH[d], c: '#ffb833', w: 1.5 });
    vlines.push({ h: d * 24 + sunsetH[d], c: '#ff7070', w: 1.5 });
    vlines.push({ h: d * 24 + duskH[d], c: PURPLE, w: 1.8 });
  });

  const dots = (data: P[], ys: any, color: string) =>
    data.filter((d) => d !== null).map((d, k) => (
      <circle key={k} cx={x(d![0])} cy={ys(d![1])} r={1.7} fill={color} />
    ));

  const tempX = 1783.3;
  const parX = 1870.7;

  return (
    <g>
      <defs>
        <clipPath id={`clip${i}`}>
          <rect x={L} y={top} width={R - L} height={bot - top} />
        </clipPath>
        <clipPath id={`lab${i}`}>
          <rect x={30} y={top - 2.2} width={40} height={bot - top + 4.4} />
        </clipPath>
      </defs>
      <rect x={L} y={top} width={R - L} height={bot - top} fill="#fff" />
      {/* grid */}
      {minorY.map((v) => (
        <line key={`mi${v}`} x1={L} x2={R} y1={yPhi(v)} y2={yPhi(v)} stroke="#f2f2f2" strokeWidth={0.8} />
      ))}
      {dayH.map((h) => (
        <line key={`mv${h}`} x1={x(h + 12)} x2={x(h + 12)} y1={top} y2={bot} stroke="#f2f2f2" strokeWidth={0.8} />
      ))}
      {phiVals.map((v: number) => (
        <line key={`ma${v}`} x1={L} x2={R} y1={yPhi(v)} y2={yPhi(v)} stroke="#ebebeb" strokeWidth={1.3} />
      ))}
      {dayH.map((h) => (
        <line key={`mx${h}`} x1={x(h)} x2={x(h)} y1={top} y2={bot} stroke="#ebebeb" strokeWidth={1.3} />
      ))}
      <g clipPath={`url(#clip${i})`}>
        {shades.map((s, k) => (
          <rect key={`s${k}`} x={x(s[0])} y={top} width={x(s[1]) - x(s[0])} height={bot - top} fill="#00ffff" fillOpacity={s[2]} />
        ))}
        {vlines.map((v, k) => (
          <line key={`v${k}`} x1={x(v.h)} x2={x(v.h)} y1={top} y2={bot} stroke={v.c} strokeWidth={v.w} strokeDasharray="5,4" />
        ))}
        <path d={line(yPar)(p.par) || ''} fill="none" stroke={YELLOW} strokeWidth={1.4} />
        <path d={line(yT)(p.temp) || ''} fill="none" stroke={PURPLE} strokeWidth={1.2} strokeOpacity={0.85} />
        <path d={line(yF)(p.f) || ''} fill="none" stroke={GRAY} strokeWidth={2} />
        {dots(p.f, yF, GRAY)}
        <path d={line(yF)(p.fm) || ''} fill="none" stroke="#000" strokeWidth={2} />
        {dots(p.fm, yF, '#000')}
        <path d={line(yPhi)(p.phi) || ''} fill="none" stroke={GREEN} strokeWidth={2} />
        {dots(p.phi, yPhi, GREEN)}
      </g>
      <rect x={L} y={top} width={R - L} height={bot - top} fill="none" stroke={BORDER} strokeWidth={1.2} />
      <line x1={L} x2={L} y1={top} y2={bot} stroke={GREEN} strokeWidth={1.6} />

      {/* left axis */}
      {phiVals.map((v: number, k: number) => (
        <g key={`lt${k}`}>
          <line x1={L - 4} x2={L} y1={yPhi(v)} y2={yPhi(v)} stroke={GREEN} strokeWidth={1.2} />
          <text x={L - 6.5} y={yPhi(v)} textAnchor="end" dominantBaseline="central" fontSize={19.5} fill={GREEN}>
            {p.phiTicks[k]}
          </text>
        </g>
      ))}
      <text transform={`translate(18.5,${mid}) rotate(-90)`} textAnchor="middle" dominantBaseline="central"
        fontSize={22} fontWeight="bold" fill={GREEN}>ΦP[Y(II)]</text>
      <g clipPath={`url(#lab${i})`}>
        <text transform={`translate(47.5,${mid}) rotate(-90)`} textAnchor="middle" dominantBaseline="central"
          fontSize={19} fontWeight="bold" fill="#000">{p.name}</text>
      </g>

      {/* bottom axis */}
      {dayH.map((h, k) => (
        <g key={`bt${k}`}>
          <line x1={x(h)} x2={x(h)} y1={bot} y2={bot + 4} stroke="#444" strokeWidth={1.1} />
          <text x={x(h)} y={bot + 24.2} textAnchor="middle" fontSize={19.5} fill="#111">{dayLabels[k]}</text>
          <text x={x(h)} y={bot + 45.6} textAnchor="middle" fontSize={19.5} fill="#111">00:00</text>
        </g>
      ))}

      {/* right axis: Fm' / F' */}
      {p.fTicks.map((t: string) => (
        <g key={`rt${t}`}>
          <line x1={R} x2={R + 4} y1={yF(+t)} y2={yF(+t)} stroke="#444" strokeWidth={1.1} />
          <text x={R + 6.5} y={yF(+t)} dominantBaseline="central" fontSize={19.5} fill="#111">{t}</text>
        </g>
      ))}
      <text transform={`translate(1760,${mid}) rotate(90)`} textAnchor="middle" dominantBaseline="central"
        fontSize={21} fontWeight="bold">
        <tspan fill="#000">Fm’</tspan>
        <tspan fill="#8c8c8c"> or F’</tspan>
      </text>

      {/* temperature axis */}
      <line x1={tempX} x2={tempX} y1={top} y2={bot} stroke={PURPLE} strokeWidth={1.3} />
      {p.tTicks.map((t: string) => (
        <g key={`tt${t}`}>
          <line x1={tempX} x2={tempX + 4} y1={yT(+t)} y2={yT(+t)} stroke={PURPLE} strokeWidth={1.1} />
          <text x={tempX + 6} y={yT(+t)} dominantBaseline="central" fontSize={19.5} fill={PURPLE}>{t}</text>
        </g>
      ))}
      <text transform={`translate(1844,${mid}) rotate(90)`} textAnchor="middle" dominantBaseline="central"
        fontSize={19.5} fill={PURPLE}>
        Temperature (<tspan fontSize={13} dy={-7}>o</tspan><tspan dy={7}>C)</tspan>
      </text>

      {/* PAR axis */}
      <line x1={parX} x2={parX} y1={top} y2={bot} stroke={YELLOW} strokeWidth={1.3} />
      {p.parTicks.map((t: string) => (
        <g key={`pt${t}`}>
          <line x1={parX} x2={parX + 4} y1={yPar(+t)} y2={yPar(+t)} stroke={YELLOW} strokeWidth={1.1} />
          <text x={parX + 6.5} y={yPar(+t)} dominantBaseline="central" fontSize={19.5} fill={YELLOW}>{t}</text>
        </g>
      ))}
      <text transform={`translate(1933,${mid}) rotate(90)`} textAnchor="middle" dominantBaseline="central"
        fontSize={20} fill={YELLOW}>PAR</text>
    </g>
  );
}

export default function App() {
  return (
    <svg width={1950} height={1570} fontFamily={FONT}
      style={{ position: 'absolute', left: 0, top: 0, background: '#fff' }}>
      <rect x={0} y={0} width={1950} height={1570} fill="#fff" />
      <rect x={0} y={0} width={1950} height={142} fill="#000" />
      {panels.map((p, i) => (
        <Panel key={p.name} p={p} i={i} />
      ))}
    </svg>
  );
}
